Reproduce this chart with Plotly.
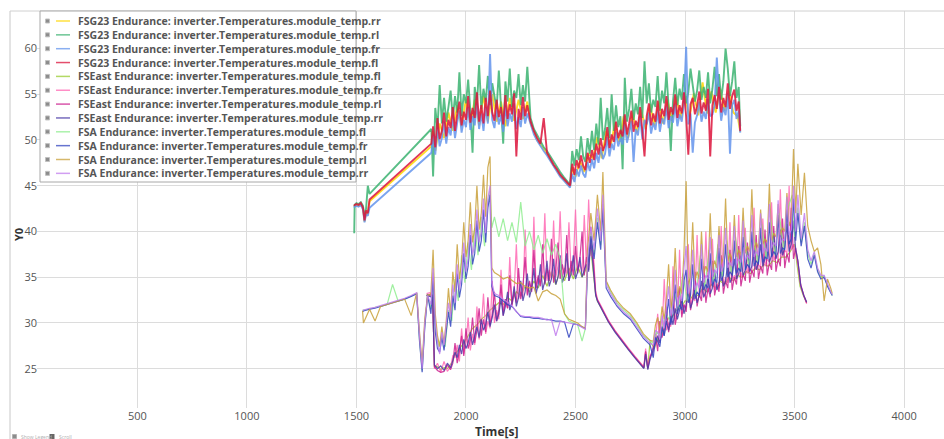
import plotly.graph_objects as go

# ======================= data =======================
# ---- FSG23 Endurance ----
t_fsg23 = ([1490, 1492, 1500, 1510, 1520, 1530, 1537, 1544, 1552, 1560, 1842]
           + list(range(1850, 2281, 10))
           + list(range(2295, 2476, 15))
           + list(range(2485, 3246, 10)) + [3252])
t_fsg23_coarse = ([1490, 1492, 1500, 1510, 1520, 1530, 1537, 1544, 1552, 1560, 1842, 1848]
                  + list(range(1860, 2281, 20))
                  + list(range(2295, 2476, 15))
                  + [2485] + list(range(2500, 3241, 20)) + [3252])

fsg23_rr = ([42.7, 42.8, 42.9, 42.8, 43.0, 42.5, 41.1, 42.1, 41.9, 43.3, 49.3, 51.0]
            + [48.8, 51.8, 50.2, 53.0, 51.0, 53.8, 51.5, 54.5, 51.8, 54.4, 51.6, 54.8, 52.0, 55.0, 52.0, 54.2, 51.5, 54.6, 52.1, 54.4, 52.3, 54.2]
            + [51.8, 50.8, 50.0, 49.5, 49.0, 48.5, 47.8, 47.2, 46.7, 46.1, 45.7, 45.3, 44.9]
            + [47.0]
            + [46.0, 47.7, 46.5, 48.5, 48.0, 50.3, 48.0, 51.0, 49.3, 51.9, 49.8, 52.6, 50.2, 53.0, 50.8, 53.3, 51.2, 53.9, 51.6, 54.2,
               51.8, 54.4, 52.1, 54.7, 52.4, 54.8, 52.5, 55.1, 52.7, 56.3, 52.9, 55.3, 53.0, 55.6, 53.2, 55.4, 53.0, 52.6]
            + [50.9])

fsg23_rl = ([39.8, 42.9, 43.1, 43.0, 43.2, 42.8, 41.5, 42.5, 45.0, 44.1, 51.2]
            + [46.0, 53.5, 51.2, 56.0, 51.8, 54.6, 52.0, 53.6, 55.4, 52.3, 54.8, 53.0, 57.4, 52.6, 55.0, 54.0, 56.6, 53.2, 48.6, 55.8,
               53.8, 58.2, 53.4, 55.6, 54.2, 57.0, 53.8, 56.2, 55.0, 53.4, 57.6, 54.0, 49.6, 56.4, 54.2, 57.8, 53.6, 55.4, 54.6, 57.2,
               53.8, 56.0, 54.2, 58.0]
            + [52.4, 51.2, 50.5, 49.8, 49.2, 48.8, 48.2, 47.6, 47.0, 46.5, 46.0, 45.6, 45.1]
            + [48.8, 47.2, 49.0, 47.8, 50.4, 48.2, 47.6, 50.2, 48.5, 51.0,
               48.9, 51.8, 49.5, 54.6, 50.0, 51.2, 53.5, 50.2, 55.0, 51.0,
               53.8, 51.4, 52.6, 46.8, 56.8, 52.0, 53.4, 55.6, 52.2, 54.0,
               52.8, 55.8, 52.4, 58.6, 54.0, 56.2, 53.0, 54.4, 53.6, 57.0,
               53.2, 55.4, 54.0, 57.4, 53.6, 48.8, 54.2, 56.8, 53.8, 55.6,
               54.4, 57.2, 54.0, 55.2, 57.8, 56.0, 54.2, 55.4, 57.6, 54.4,
               55.8, 54.6, 57.4, 54.0, 55.6, 58.0, 54.8, 57.2, 54.4, 56.4,
               60.0, 57.8, 54.8, 56.4, 58.6, 54.6, 55.8]
            + [51.5])

fsg23_fr = ([42.6, 42.7, 42.8, 42.7, 42.9, 42.4, 41.0, 41.9, 41.7, 42.6, 48.6]
            + [50.6, 48.4, 51.4, 49.3, 50.2, 52.0, 49.6, 51.4, 50.5, 52.6, 50.2, 51.9, 53.2, 50.8, 52.2, 51.4, 53.6, 51.1, 52.6, 51.6,
               54.0, 51.2, 52.9, 51.0, 53.6, 51.8, 59.4, 52.2, 51.3, 53.4, 51.7, 52.7, 50.9, 53.8, 51.5, 52.9, 52.0, 54.0, 51.2, 52.5,
               51.4, 53.6, 51.8, 52.9]
            + [51.6, 50.6, 49.9, 49.3, 48.8, 48.3, 47.7, 47.1, 46.6, 46.0, 45.6, 45.2, 44.8]
            + [46.3, 45.4, 46.8, 46.0, 47.2, 46.3, 45.9, 47.6, 46.6, 47.9,
               46.9, 48.6, 47.5, 49.2, 47.9, 48.5, 50.3, 48.2, 49.6, 48.9,
               50.9, 49.3, 50.2, 49.5, 51.7, 49.7, 50.8, 52.1, 47.6, 51.2,
               50.5, 52.6, 50.1, 52.2, 51.7, 53.0, 50.7, 51.9, 51.1, 53.2,
               50.9, 52.4, 51.7, 53.7, 51.3, 52.6, 51.9, 53.9, 51.5, 52.8,
               52.0, 54.1, 60.2, 51.7, 52.9, 48.6, 51.9, 52.7, 54.2, 52.0,
               53.1, 52.3, 54.5, 52.6, 52.8, 53.8, 59.0, 54.7, 52.1, 53.6,
               52.7, 55.1, 48.5, 53.8, 54.4, 52.3, 53.2]
            + [50.8])

fsg23_fl = ([42.8, 42.9, 43.0, 42.9, 43.1, 42.6, 41.2, 42.3, 42.0, 43.5, 49.6]
            + [51.5, 49.2, 52.4, 50.1, 51.0, 53.0, 50.4, 52.2, 51.3, 53.6, 51.0, 52.8, 54.2, 51.6, 53.1, 52.2, 54.8, 51.9, 53.5, 52.4,
               55.2, 52.0, 53.8, 51.8, 54.6, 52.6, 55.4, 53.0, 52.1, 54.4, 52.5, 53.6, 51.7, 54.9, 52.3, 53.9, 52.8, 55.1, 48.2, 53.4,
               52.2, 54.7, 52.6, 53.8]
            + [52.0, 51.0, 50.2, 49.6, 52.4, 48.6, 47.9, 47.3, 46.8, 46.2, 45.8, 45.4, 45.0]
            + [47.4, 46.2, 47.8, 46.9, 48.3, 47.2, 46.7, 48.6, 47.5, 48.9,
               47.8, 49.6, 48.4, 50.2, 48.8, 49.5, 51.4, 49.1, 50.6, 49.8,
               52.0, 50.2, 51.1, 50.4, 52.8, 50.6, 51.8, 53.2, 50.9, 52.1,
               51.4, 53.6, 51.0, 48.2, 52.6, 54.0, 51.6, 52.9, 52.0, 54.3,
               51.8, 53.4, 52.6, 54.8, 52.2, 53.6, 52.8, 55.0, 52.4, 53.8,
               52.9, 55.2, 52.6, 48.4, 53.9, 54.6, 52.8, 53.7, 55.3, 52.9,
               54.1, 53.2, 55.6, 48.2, 53.8, 54.9, 53.4, 55.8, 53.0, 54.6,
               53.6, 56.2, 53.4, 54.8, 55.5, 53.2, 54.2]
            + [51.0])

# ---- FSEast Endurance ----
t_fseast = ([1820, 1835, 1848, 1856, 1870, 1885, 1900, 1915, 1930, 1940]
            + list(range(1950, 2571, 10))
            + [2583, 2592, 2600]
            + [2620, 2650, 2680, 2710, 2740, 2770, 2800, 2812, 2820, 2830, 2840]
            + list(range(2855, 3506, 10))
            + [3515, 3528, 3542, 3555])
t_fseast_coarse = ([1820, 1835, 1848, 1856, 1870, 1885, 1900, 1915, 1930, 1940]
                   + list(range(1950, 2571, 20))
                   + [2583, 2592, 2600]
                   + [2620, 2650, 2680, 2710, 2740, 2770, 2800, 2812, 2820, 2830, 2840]
                   + list(range(2860, 3501, 20))
                   + [3510, 3525, 3540, 3555])

fseast_fl = ([33.1, 33.0, 32.9, 25.3, 25.2, 24.9, 25.1, 25.0, 25.5, 25.8]
             + [26.6, 27.2, 27.8, 28.6, 29.4, 29.8, 30.4, 30.8, 31.4, 31.8, 32.2, 32.0, 32.8, 32.4, 33.4, 33.0, 34.0, 33.4, 34.6, 33.8,
                35.2, 34.0, 35.6, 34.2, 35.8, 34.6, 36.0, 34.8, 36.2, 35.0, 36.0, 38.0]
             + [35.0, 33.1, 32.4]
             + [31.5, 30.2, 29.1, 28.1, 27.2, 26.3, 25.4, 25.1, 26.8, 25.0, 28.0]
             + [27.2, 28.6, 29.0, 30.4, 30.6, 31.4, 31.6, 32.4, 32.4, 33.2, 33.0, 33.8, 33.4, 34.2, 33.8, 34.6, 34.2, 35.0, 34.6, 35.2,
                35.0, 35.6, 35.4, 36.0, 35.8, 36.4, 36.2, 36.8, 36.6, 37.2, 37.2, 37.8, 38.6]
             + [36.6, 34.0, 33.0, 32.2])

fseast_fr = ([33.2, 33.3, 33.1, 25.0, 25.6, 24.6, 25.8, 24.7, 25.2, 26.4]
             + [26.2, 27.6, 25.8, 29.4, 26.6, 27.8, 30.6, 27.0, 28.8, 27.6,
                31.8, 28.2, 29.6, 33.2, 28.8, 30.2, 29.4, 34.6, 30.0, 31.4,
                30.4, 35.8, 31.2, 32.4, 31.6, 37.2, 32.0, 33.4, 38.6, 32.6,
                33.4, 32.8, 40.2, 33.2, 34.4, 33.6, 41.6, 33.8, 35.0, 34.2,
                35.6, 42.0, 34.6, 35.8, 34.8, 41.2, 35.0, 36.2, 42.2, 35.2,
                36.0, 35.4, 41.0, 35.6, 36.6, 42.4, 35.8, 36.4, 35.6, 41.8,
                36.2, 43.5, 37.4]
             + [37.0, 33.5, 32.6]
             + [31.7, 30.3, 29.2, 28.2, 27.3, 26.4, 25.5, 25.2, 27.2, 25.1, 26.4]
             + [26.8, 27.8, 31.0, 28.0, 28.8, 34.8, 29.2, 30.0, 29.6, 36.2,
                30.4, 31.2, 38.0, 31.0, 32.0, 31.6, 38.6, 32.0, 32.8, 32.4,
                39.6, 32.8, 33.6, 33.0, 40.0, 33.4, 34.2, 39.2, 33.6, 34.4,
                33.8, 40.6, 34.0, 35.0, 34.4, 41.0, 34.6, 35.2, 34.8, 41.8,
                35.0, 35.8, 40.4, 35.4, 36.0, 35.6, 42.6, 35.8, 36.4, 36.0,
                41.4, 36.2, 37.0, 36.6, 43.2, 36.8, 37.4, 37.0, 44.6, 37.2,
                38.0, 37.6, 45.0, 38.0, 38.6, 37.6]
             + [36.4, 34.0, 32.9, 32.1])

fseast_rl = ([33.0, 33.1, 33.0, 25.2, 24.8, 24.6, 24.7, 25.4, 24.9, 25.6]
             + [27.8, 25.6, 26.9, 28.6, 26.4, 29.4, 27.2, 28.1, 30.6, 27.8,
                29.2, 31.6, 28.6, 30.4, 29.0, 32.8, 29.8, 30.9, 33.4, 30.2,
                31.4, 34.2, 30.8, 32.6, 31.6, 35.2, 31.9, 33.4, 32.2, 36.0,
                32.6, 34.0, 37.2, 33.0, 34.6, 33.4, 38.0, 33.8, 35.2, 34.0,
                38.6, 34.2, 36.0, 34.6, 39.2, 34.4, 35.8, 38.8, 34.8, 36.4,
                35.0, 39.6, 34.6, 36.8, 35.2, 38.4, 35.4, 37.0, 40.0, 35.2,
                37.2, 35.8, 40.5]
             + [36.0, 33.2, 32.5]
             + [31.6, 30.2, 29.1, 28.1, 27.2, 26.3, 25.4, 25.1, 26.9, 25.0, 26.2]
             + [27.4, 28.8, 26.9, 30.2, 28.4, 29.6, 31.8, 29.0, 30.4, 32.6,
                29.8, 31.0, 33.8, 30.6, 32.0, 31.2, 34.6, 31.4, 32.6, 35.6,
                31.8, 33.2, 32.4, 36.2, 32.2, 33.8, 32.8, 36.8, 33.0, 34.2,
                33.4, 37.4, 33.2, 34.6, 33.8, 38.0, 33.6, 35.0, 34.2, 38.4,
                34.0, 35.4, 34.6, 38.8, 34.4, 35.8, 35.0, 39.6, 34.8, 36.2,
                35.4, 40.2, 35.2, 36.6, 35.8, 40.6, 35.6, 37.0, 36.2, 41.4,
                36.0, 37.6, 36.6, 42.6, 37.0, 38.2]
             + [36.8, 34.2, 33.0, 32.2])

fseast_rr = ([33.0, 32.9, 32.8, 25.4, 25.0, 25.3, 24.8, 25.6, 25.1, 25.9]
             + [26.8, 26.2, 27.6, 26.6, 28.2, 27.2, 27.8, 29.0, 27.6, 28.6,
                29.6, 28.4, 30.4, 29.2, 29.8, 31.2, 29.6, 30.6, 32.0, 30.2,
                31.0, 32.6, 30.8, 31.8, 33.4, 31.4, 32.2, 34.0, 31.8, 32.8,
                34.6, 32.4, 33.4, 35.4, 32.8, 33.8, 36.0, 33.2, 34.2, 36.4,
                33.6, 34.6, 36.8, 34.0, 34.8, 37.0, 34.2, 35.0, 37.4, 34.4,
                35.2, 37.6, 34.6, 35.4, 37.4, 34.8, 35.6, 37.2, 35.0, 35.8,
                36.4, 35.6, 39.0]
             + [35.4, 33.0, 32.4]
             + [31.5, 30.1, 29.0, 28.0, 27.1, 26.2, 25.3, 25.0, 26.6, 24.9, 26.0]
             + [27.0, 27.8, 28.6, 27.8, 29.4, 28.6, 30.2, 29.2, 30.8, 29.8,
                31.6, 30.4, 31.4, 32.6, 31.0, 32.0, 33.4, 31.6, 32.4, 33.8,
                32.2, 33.0, 34.6, 32.8, 33.4, 35.2, 33.2, 33.8, 35.8, 33.6,
                34.2, 36.2, 34.0, 34.6, 36.6, 34.4, 35.0, 37.0, 34.8, 35.4,
                37.4, 35.2, 35.8, 37.8, 35.6, 36.2, 38.2, 35.8, 36.6, 38.6,
                36.2, 37.0, 39.0, 36.6, 37.4, 39.6, 37.0, 37.8, 40.2, 37.4,
                38.2, 40.8, 37.8, 38.6, 41.2, 38.0]
             + [36.8, 34.1, 33.0, 32.3])

# ---- FSA Endurance ----
t_fsa = ([1528, 1532, 1560, 1585, 1610, 1640, 1665, 1690, 1720, 1750, 1775, 1788, 1800, 1812, 1825, 1840, 1850]
         + list(range(1860, 2101, 10))
         + [2110, 2118]
         + list(range(2130, 2531, 20))
         + [2545]
         + [2555, 2570, 2585, 2600, 2615, 2625, 2640]
         + [2660, 2690, 2720, 2750, 2780, 2810, 2840, 2855]
         + list(range(2865, 3496, 10))
         + [3505, 3515, 3530, 3545, 3560, 3575, 3590, 3605, 3620, 3635, 3650, 3665, 3672])
t_fsa_coarse = ([1528, 1532, 1560, 1585, 1610, 1640, 1665, 1690, 1720, 1750, 1775, 1788, 1800, 1812, 1825, 1840, 1850]
                + list(range(1860, 2101, 15))
                + [2110, 2118]
                + list(range(2130, 2531, 20))
                + [2545]
                + [2555, 2570, 2585, 2600, 2615, 2625, 2640]
                + [2660, 2690, 2720, 2750, 2780, 2810, 2840, 2855]
                + list(range(2870, 3491, 20))
                + [3500, 3515, 3530, 3545, 3560, 3575, 3590, 3605, 3620, 3635, 3650, 3665, 3672])

fsa_fl = ([31.3, 31.4, 31.5, 31.7, 31.8, 32.0, 34.2, 32.4, 32.6, 32.9, 33.2, 28.2, 24.8, 29.8, 33.0, 31.5, 35.5]
          + [29.4, 27.4, 28.6, 27.4, 31.4, 30.2, 34.8, 32.4, 37.4, 34.4, 38.8, 35.8, 40.4, 37.4, 41.6, 38.4, 43.0]
          + [44.4, 40.4]
          + [41.6, 39.4, 41.4, 39.0, 41.0, 38.8, 43.2, 38.4, 40.0, 38.0, 39.6, 37.6, 39.2, 37.4, 38.6, 37.0, 31.0, 30.2, 30.0, 29.8, 28.0]
          + [29.4]
          + [36.5, 40.0, 37.5, 41.5, 38.5, 43.0, 34.5]
          + [33.4, 32.2, 31.4, 30.8, 29.8, 28.6, 28.0, 27.8]
          + [29.0, 28.6, 31.0, 30.4, 33.4, 31.4, 35.4, 32.4, 36.4, 33.0, 37.4, 33.8, 38.0, 34.4, 38.6, 35.0, 39.0, 35.4, 39.4, 35.8,
             39.8, 36.2, 40.4, 36.6, 40.8, 37.0, 41.4, 37.4, 42.0, 38.0, 42.6, 44.0]
          + [39.4, 42.6, 38.8, 41.0, 37.6, 36.4, 37.6, 35.8, 35.0, 35.1, 34.1, 33.4, 33.0])

fsa_fr = ([31.2, 31.3, 31.5, 31.6, 31.8, 32.0, 32.2, 32.4, 32.6, 32.9, 33.2, 28.0, 24.6, 29.5, 33.1, 31.0, 35.0]
          + [29.0, 27.2, 26.8, 28.4, 27.0, 28.8, 31.2, 29.6, 33.0, 31.4, 35.4, 32.8, 34.2, 37.6, 34.8, 36.2, 39.6, 36.4, 37.6, 41.2,
             37.8, 39.0, 42.4, 38.8, 42.6]
          + [44.0, 34.0]
          + [33.0, 32.8, 32.4, 32.0, 31.8, 31.2, 30.7, 30.6, 30.6, 30.5, 30.5, 30.4, 30.4, 30.3, 30.2, 30.2, 30.1, 28.4, 29.9, 29.8, 29.6]
          + [29.4]
          + [36.0, 39.5, 37.0, 41.0, 38.0, 42.5, 33.8]
          + [32.9, 31.8, 31.0, 30.4, 29.4, 28.3, 27.6, 26.2]
          + [28.4, 28.0, 27.4, 29.6, 28.6, 30.4, 32.6, 29.8, 31.0, 34.2,
             31.0, 32.0, 31.4, 34.6, 35.8, 32.2, 33.0, 36.4, 32.6, 33.4,
             33.0, 37.0, 33.6, 34.2, 33.8, 37.6, 34.0, 34.8, 34.4, 38.2,
             34.6, 35.2, 38.6, 35.0, 35.6, 35.2, 39.0, 35.4, 36.0, 35.6,
             39.4, 35.8, 36.4, 36.0, 40.0, 36.2, 36.8, 36.4, 40.4, 36.6,
             37.2, 37.0, 41.0, 37.2, 37.8, 37.4, 41.8, 37.6, 38.2, 38.0,
             42.4, 38.6, 39.2, 43.6]
          + [39.0, 42.0, 38.4, 40.6, 37.0, 36.0, 37.4, 35.6, 34.8, 35.0, 34.0, 33.3, 33.0])

fsa_rl = ([31.3, 30.0, 31.5, 30.2, 31.8, 32.0, 32.2, 32.4, 32.6, 30.8, 33.3, 29.0, 25.6, 30.5, 33.0, 33.2, 38.0]
          + [31.0, 28.6, 27.4, 29.6, 27.8, 30.2, 33.8, 31.0, 35.6, 33.4, 38.6, 34.8, 36.6, 41.0, 37.2, 39.0, 43.2, 38.8, 40.4, 45.0,
             40.2, 42.0, 46.2, 41.6, 47.0]
          + [48.2, 36.0]
          + [35.5, 35.2, 34.8, 35.0, 34.6, 34.3, 34.4, 34.0, 33.8, 33.9, 32.4, 33.4, 33.6, 33.2, 33.0, 32.6, 31.0, 30.4, 30.2, 30.0, 29.6]
          + [29.4]
          + [38.0, 42.0, 39.0, 44.0, 40.0, 46.5, 34.6]
          + [33.6, 32.4, 31.6, 31.0, 30.0, 28.8, 28.1, 28.0]
          + [29.8, 30.6, 29.2, 31.8, 30.4, 32.6, 36.4, 31.6, 33.0, 38.2,
             32.8, 34.0, 33.2, 37.6, 45.5, 34.2, 35.0, 41.0, 34.6, 35.6,
             34.8, 40.0, 35.4, 36.2, 35.6, 42.0, 35.8, 36.8, 36.0, 40.6,
             36.4, 37.2, 43.6, 36.8, 37.6, 36.8, 41.8, 37.2, 38.0, 37.4,
             42.6, 37.6, 38.4, 37.8, 44.6, 38.0, 38.8, 38.2, 42.4, 38.6,
             39.2, 38.8, 45.2, 39.0, 39.8, 39.4, 43.0, 39.6, 40.4, 40.0,
             44.2, 40.6, 41.4, 49.0]
          + [42.0, 47.4, 41.8, 46.4, 40.6, 39.0, 37.8, 38.2, 36.4, 32.4, 34.8, 33.8, 33.2])

fsa_rr = ([31.4, 31.4, 31.6, 31.7, 31.9, 32.1, 32.3, 32.5, 32.7, 33.0, 33.3, 28.6, 25.0, 30.0, 33.0, 32.0, 36.0]
          + [30.0, 27.8, 26.6, 29.0, 27.6, 29.6, 32.2, 30.6, 34.2, 32.2, 36.4, 33.6, 35.2, 38.8, 35.6, 37.0, 40.8, 37.4, 38.6, 42.4,
             38.8, 40.0, 43.6, 39.8, 43.6]
          + [45.0, 34.4]
          + [33.2, 33.0, 32.6, 32.2, 31.9, 31.2, 30.8, 30.7, 30.7, 30.6, 30.6, 30.5, 30.3, 30.4, 28.6, 30.2, 30.1, 30.0, 29.9, 29.8, 29.5]
          + [29.3]
          + [37.0, 40.5, 38.0, 42.5, 39.0, 44.0, 34.2]
          + [33.2, 32.0, 31.2, 30.6, 29.6, 28.5, 27.8, 27.6]
          + [29.2, 29.0, 28.2, 30.8, 29.4, 31.4, 34.0, 30.8, 32.0, 35.8,
             31.8, 33.0, 32.4, 36.0, 38.4, 33.2, 34.0, 38.0, 33.6, 34.4,
             33.8, 38.6, 34.4, 35.2, 34.8, 39.4, 35.0, 35.8, 35.4, 39.6,
             35.6, 36.2, 40.4, 36.0, 36.6, 36.2, 40.6, 36.4, 37.0, 36.6,
             41.2, 36.8, 37.4, 37.0, 41.8, 37.2, 37.8, 37.4, 42.0, 37.6,
             38.2, 37.8, 43.0, 38.2, 38.8, 38.4, 43.4, 38.6, 39.2, 39.0,
             43.8, 39.6, 40.2, 45.0]
          + [40.0, 44.0, 39.2, 42.0, 38.0, 36.8, 37.8, 36.0, 35.2, 35.2, 34.2, 33.4, 33.1])

x_ticks = [500, 1000, 1500, 2000, 2500, 3000, 3500, 4000]
y_ticks = [25, 30, 35, 40, 45, 50, 55, 60]

# ======================= series (legend order) =======================
prefix = "inverter.Temperatures.module_temp."
series = [
    ("FSG23 Endurance: " + prefix + "rr", t_fsg23_coarse, fsg23_rr, "#FFD700", 1.9),
    ("FSG23 Endurance: " + prefix + "rl", t_fsg23, fsg23_rl, "#3CB371", 1.9),
    ("FSG23 Endurance: " + prefix + "fr", t_fsg23, fsg23_fr, "#6495ED", 1.9),
    ("FSG23 Endurance: " + prefix + "fl", t_fsg23, fsg23_fl, "#DC143C", 1.9),
    ("FSEast Endurance: " + prefix + "fl", t_fseast_coarse, fseast_fl, "#9ACD32", 1.2),
    ("FSEast Endurance: " + prefix + "fr", t_fseast, fseast_fr, "#FF69B4", 1.2),
    ("FSEast Endurance: " + prefix + "rl", t_fseast, fseast_rl, "#CC1F8F", 1.2),
    ("FSEast Endurance: " + prefix + "rr", t_fseast, fseast_rr, "#4B3CA8", 1.2),
    ("FSA Endurance: " + prefix + "fl", t_fsa_coarse, fsa_fl, "#90EE90", 1.2),
    ("FSA Endurance: " + prefix + "fr", t_fsa, fsa_fr, "#3346C0", 1.2),
    ("FSA Endurance: " + prefix + "rl", t_fsa, fsa_rl, "#C9A13A", 1.2),
    ("FSA Endurance: " + prefix + "rr", t_fsa, fsa_rr, "#C27EEE", 1.2),
]

for name, t, v, _, _ in series:
    if len(t) != len(v):
        raise ValueError(f"{name}: {len(t)} times vs {len(v)} values")

fig = go.Figure()
for name, t, v, color, w in series:
    fig.add_trace(go.Scatter(x=t, y=v, mode="lines", name=name,
                             line=dict(color=color, width=w), opacity=0.85))

# ======================= layout =======================
W, H = 944, 439
L, R, T, B = 37, 0, 11, 31
PW, PH = W - L - R, H - T - B


def px_x(px):
    return (px - L) / PW


def px_y(py):
    return (H - B - py) / PH


fig.update_layout(
    width=W, height=H,
    margin=dict(l=L, r=R, t=T, b=B),
    plot_bgcolor="white", paper_bgcolor="white",
    showlegend=False,
    font=dict(family="Open Sans", size=11, color="#555555"),
    xaxis=dict(range=[42, 4182], tickvals=x_ticks, showgrid=True, gridcolor="#DCDCDC",
               gridwidth=1, zeroline=False, showline=False, ticks="",
               tickfont=dict(size=11, color="#555555")),
    yaxis=dict(range=[20.7, 64.1], tickvals=y_ticks, showgrid=True, gridcolor="#DCDCDC",
               gridwidth=1, zeroline=False, showline=False, ticks="",
               tickfont=dict(size=11, color="#555555"), ticklabelstandoff=-1),
)

shapes = []
annotations = []

# outer frame lines
shapes.append(dict(type="line", xref="paper", yref="paper", x0=px_x(10), x1=px_x(10),
                   y0=px_y(11), y1=px_y(439), line=dict(color="#C8C8C8", width=1)))
shapes.append(dict(type="line", xref="paper", yref="paper", x0=px_x(10), x1=px_x(944),
                   y0=px_y(11), y1=px_y(11), line=dict(color="#D0D0D0", width=1)))

# legend box drawn as shapes + text
shapes.append(dict(type="rect", xref="paper", yref="paper", layer="above",
                   x0=px_x(40), x1=px_x(356), y0=px_y(11), y1=px_y(182),
                   fillcolor="white", line=dict(color="#A8A8A8", width=1)))
for i, (name, _, _, color, _) in enumerate(series):
    yc = 21 + i * 13.85
    shapes.append(dict(type="rect", xref="paper", yref="paper", layer="above",
                       x0=px_x(45.5), x1=px_x(49.5), y0=px_y(yc - 2), y1=px_y(yc + 2),
                       fillcolor="#8C8C8C", line=dict(color="#C0C0C0", width=1)))
    shapes.append(dict(type="line", xref="paper", yref="paper", layer="above",
                       x0=px_x(56), x1=px_x(70), y0=px_y(yc), y1=px_y(yc),
                       opacity=0.75, line=dict(color=color, width=1.5)))
    annotations.append(dict(xref="paper", yref="paper", x=px_x(76), y=px_y(yc),
                            xanchor="left", yanchor="middle", showarrow=False,
                            text="<b>" + name + "</b>",
                            font=dict(family="Open Sans", size=10.5, color="#555555")))

# axis titles
annotations.append(dict(xref="paper", yref="paper", x=px_x(497), y=px_y(432),
                        xanchor="center", yanchor="middle", showarrow=False,
                        text="<b>Time[s]</b>", font=dict(family="Open Sans", size=12, color="#333333")))
annotations.append(dict(xref="paper", yref="paper", x=px_x(18), y=px_y(235),
                        xanchor="center", yanchor="middle", showarrow=False, textangle=-90,
                        text="<b>Y0</b>", font=dict(family="Open Sans", size=11, color="#333333")))

# tiny bottom-left controls
shapes.append(dict(type="rect", xref="paper", yref="paper", x0=px_x(12.5), x1=px_x(16.5),
                   y0=px_y(434.5), y1=px_y(438.5), fillcolor="#8C8C8C", line=dict(color="#B0B0B0", width=1)))
annotations.append(dict(xref="paper", yref="paper", x=px_x(19), y=px_y(437), xanchor="left",
                        yanchor="middle", showarrow=False, text="Show Legend",
                        font=dict(family="Open Sans", size=5, color="#B0B0B0")))
shapes.append(dict(type="rect", xref="paper", yref="paper", x0=px_x(49.5), x1=px_x(54.5),
                   y0=px_y(434), y1=px_y(439), fillcolor="#666666", line=dict(width=0)))
annotations.append(dict(xref="paper", yref="paper", x=px_x(57), y=px_y(437), xanchor="left",
                        yanchor="middle", showarrow=False, text="Scroll",
                        font=dict(family="Open Sans", size=5, color="#B0B0B0")))

fig.update_layout(shapes=shapes, annotations=annotations)

fig.write_html("out.html")
